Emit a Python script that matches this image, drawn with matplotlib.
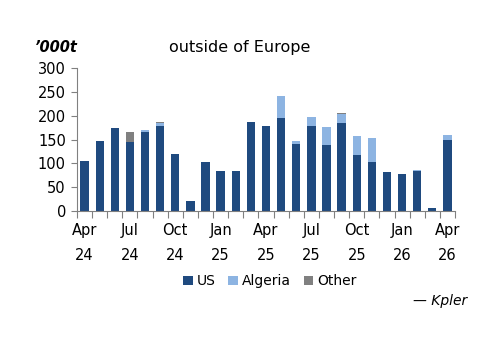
import matplotlib
matplotlib.use("Agg")
import matplotlib.pyplot as plt
import numpy as np

MONTHS = ["Apr 24", "May 24", "Jun 24", "Jul 24", "Aug 24", "Sep 24", "Oct 24",
          "Nov 24", "Dec 24", "Jan 25", "Feb 25", "Mar 25", "Apr 25", "May 25",
          "Jun 25", "Jul 25", "Aug 25", "Sep 25", "Oct 25", "Nov 25", "Dec 25",
          "Jan 26", "Feb 26", "Mar 26", "Apr 26"]
US = [106, 147, 175, 144, 166, 179, 119, 22, 103, 84, 84, 188, 179, 196,
      141, 179, 138, 184, 118, 103, 82, 77, 84, 6, 149]
ALGERIA = [0, 0, 0, 0, 4, 5, 0, 0, 0, 0, 0, 0, 0, 46,
           6, 19, 39, 19, 39, 51, 0, 0, 3, 0, 10]
OTHER = [0, 0, 0, 22, 0, 4, 0, 0, 0, 0, 0, 0, 0, 0,
         0, 0, 0, 3, 0, 0, 0, 0, 0, 0, 0]
TICK_LABELS = ["Apr\n24", "Jul\n24", "Oct\n24", "Jan\n25", "Apr\n25",
               "Jul\n25", "Oct\n25", "Jan\n26", "Apr\n26"]

C_US = "#1f4a7f"
C_ALG = "#8db4e2"
C_OTH = "#808080"


def main():
    plt.rcParams["font.family"] = ["DejaVu Sans"]
    fig = plt.figure(figsize=(5.0, 3.53), dpi=100)
    ax = fig.add_axes([0.154, 0.402, 0.756, 0.405])

    x = np.arange(len(MONTHS))
    us = np.array(US)
    alg = np.array(ALGERIA)
    oth = np.array(OTHER)
    w = 0.55
    ax.bar(x, us, w, color=C_US, label="US")
    ax.bar(x, alg, w, bottom=us, color=C_ALG, label="Algeria")
    ax.bar(x, oth, w, bottom=us + alg, color=C_OTH, label="Other")

    ax.set_xlim(-0.5, len(MONTHS) - 0.5)
    ax.set_ylim(0, 300)
    ax.set_yticks(range(0, 301, 50))
    ax.set_xticks(np.arange(-0.5, len(MONTHS)), minor=False)
    ax.set_xticklabels([])
    ax.set_xticks(x[::3], minor=True)
    ax.set_xticklabels(TICK_LABELS, minor=True, fontsize=10.5,
                       linespacing=1.85)
    ax.tick_params(axis="x", which="major", length=5, direction="out",
                   color="#808080")
    ax.tick_params(axis="x", which="minor", length=0, pad=8.5)
    ax.tick_params(axis="y", length=4, color="#808080", labelsize=10.5, pad=4)

    for s in ["top", "right"]:
        ax.spines[s].set_visible(False)
    for s in ["left", "bottom"]:
        ax.spines[s].set_color("#808080")

    fig.text(0.48, 0.865, "outside of Europe", ha="center", va="center",
             fontsize=11.5)
    fig.text(0.07, 0.865, "\u2019000t", ha="left", va="center",
             fontsize=10.5, fontweight="bold", style="italic")

    fig.legend(loc="center", bbox_to_anchor=(0.54, 0.203), ncol=3,
               frameon=False, fontsize=10, handlelength=0.7,
               handleheight=0.7, handletextpad=0.3, columnspacing=0.9)
    fig.text(0.935, 0.147, "\u2014 Kpler", ha="right", va="center",
             fontsize=10, style="italic")

    fig.savefig("out.png", dpi=100)


if __name__ == "__main__":
    main()
